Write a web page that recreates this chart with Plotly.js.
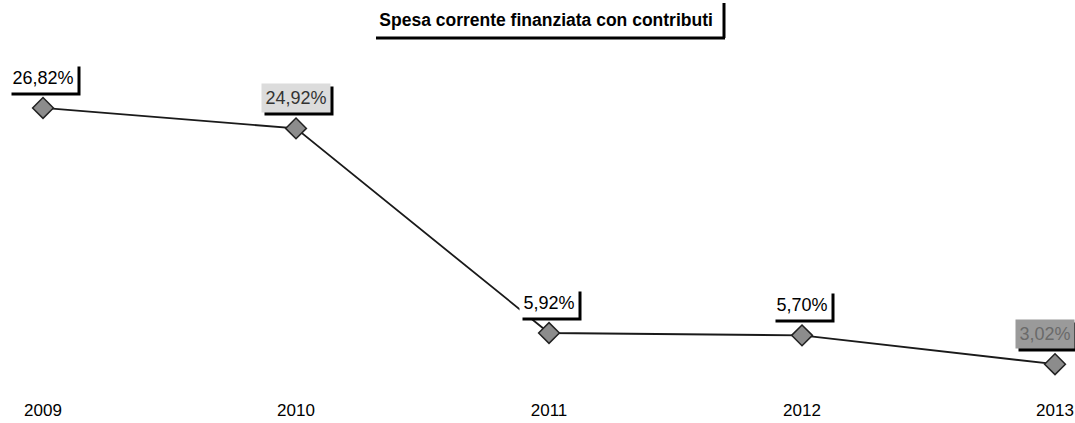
<!DOCTYPE html>
<html>
<head>
<meta charset="utf-8">
<script src="https://cdn.plot.ly/plotly-3.0.1.min.js"></script>
<style>html,body{margin:0;padding:0;background:#fff;}#chart{width:1075px;height:423px;}</style>
</head>
<body>
<div id="chart"></div>
<script>
const years = [2009, 2010, 2011, 2012, 2013];
const values = [26.82, 24.92, 5.92, 5.70, 3.02];
const labels = ["26,82%", "24,92%", "5,92%", "5,70%", "3,02%"];
const labelBg = ["#ffffff", "#dcdcdc", "#ffffff", "#ffffff", "#9a9a9a"];
const labelColor = ["#000000", "#333333", "#000000", "#000000", "#6a6a6a"];
const titleText = "Spesa corrente finanziata con contributi";

const FONT = "Liberation Sans, Arial, sans-serif";

const trace = {
  x: years,
  y: values,
  type: "scatter",
  mode: "lines+markers",
  line: {color: "#1a1a1a", width: 1.8},
  marker: {symbol: "diamond", size: 16, color: "#8c8c8c", line: {color: "#222", width: 1.5}},
  hoverinfo: "skip"
};

const annotations = [];
years.forEach((yr, i) => {
  const w = labels[i].length === 6 ? 62 : 52;
  const xs = i === years.length - 1 ? -10 : 0;
  // drop shadow (empty box)
  annotations.push({
    x: yr, y: values[i], xref: "x", yref: "y", showarrow: false,
    text: " ", width: w, height: 22, yshift: 27, xshift: xs + 3,
    font: {family: FONT, size: 18, color: "#000"},
    bgcolor: "#000", borderpad: 3
  });
  annotations.push({
    x: yr, y: values[i], xref: "x", yref: "y", showarrow: false,
    text: labels[i], width: w, height: 22, yshift: 30, xshift: xs,
    font: {family: FONT, size: 18, color: labelColor[i]},
    bgcolor: labelBg[i], borderpad: 3
  });
});

const layout = {
  width: 1075, height: 423,
  margin: {l: 0, r: 0, t: 50, b: 43, pad: 0},
  paper_bgcolor: "#fff", plot_bgcolor: "#fff",
  showlegend: false,
  title: {
    text: "<b>" + titleText + "</b>",
    font: {family: FONT, size: 17.5, color: "#000"},
    x: 0.508, xref: "paper", xanchor: "center",
    y: 0.953, yref: "container", yanchor: "middle"
  },
  xaxis: {
    range: [2008.830, 2013.079],
    tickmode: "array", tickvals: years, ticktext: years.map(String),
    showgrid: false, zeroline: false, showline: false, ticks: "",
    ticklabelstandoff: 18,
    tickfont: {family: FONT, size: 17, color: "#000"}
  },
  yaxis: {
    range: [1.556, 32.2],
    showgrid: false, zeroline: false, showline: false,
    showticklabels: false, ticks: ""
  },
  annotations: annotations,
  shapes: [
    {type: "line", xref: "paper", yref: "paper", x0: 376/1075, x1: 725/1075, y0: (380-38)/330, y1: (380-38)/330, line: {color: "#000", width: 3}},
    {type: "line", xref: "paper", yref: "paper", x0: 724/1075, x1: 724/1075, y0: (380-38)/330, y1: (380-3)/330, line: {color: "#000", width: 3}}
  ]
};

Plotly.newPlot("chart", [trace], layout, {displayModeBar: false, staticPlot: true});
</script>
</body>
</html>
